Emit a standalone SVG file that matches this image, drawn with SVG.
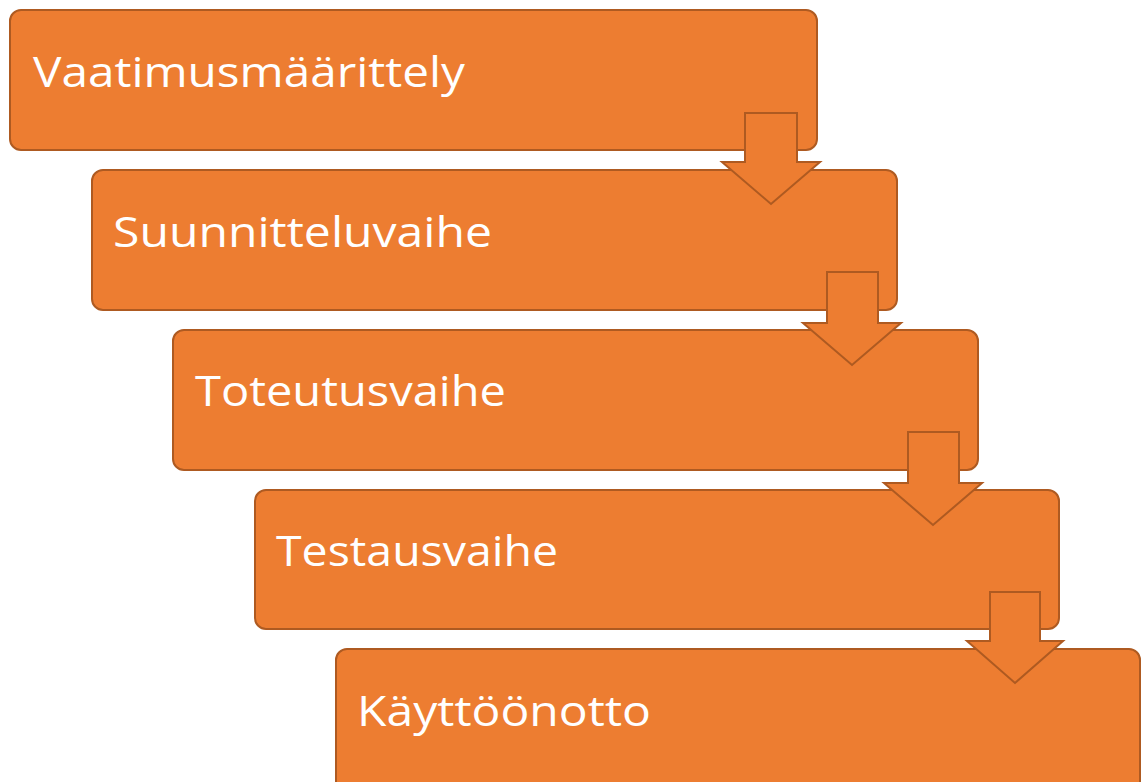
<svg xmlns="http://www.w3.org/2000/svg" width="1142" height="782" viewBox="0 0 1142 782">
<defs>
<style>
.box{fill:#ED7D31;stroke:#AE5A21;stroke-width:2}
.arr{fill:#ED7D31;stroke:#AE5A21;stroke-width:2;stroke-linejoin:miter}
.lbl{fill:#FFFFFF;font-family:"Open Sans","Noto Sans","Liberation Sans",sans-serif;font-size:42px}
</style>
</defs>
<rect width="1142" height="782" fill="#FFFFFF"/>
<g id="node1"><rect class="box" x="10" y="10" width="807" height="140" rx="11"/><text class="lbl" x="33" y="87" textLength="432" lengthAdjust="spacingAndGlyphs">Vaatimusmäärittely</text></g>
<g id="node2"><rect class="box" x="92" y="170" width="805" height="140" rx="11"/><text class="lbl" x="113" y="247" textLength="379" lengthAdjust="spacingAndGlyphs">Suunnitteluvaihe</text></g>
<g id="node3"><rect class="box" x="173" y="330" width="805" height="140" rx="11"/><text class="lbl" x="195" y="406" textLength="311" lengthAdjust="spacingAndGlyphs">Toteutusvaihe</text></g>
<g id="node4"><rect class="box" x="255" y="490" width="804" height="139" rx="11"/><text class="lbl" x="276" y="566" textLength="282" lengthAdjust="spacingAndGlyphs">Testausvaihe</text></g>
<g id="node5"><rect class="box" x="336" y="649" width="804" height="145" rx="11"/><text class="lbl" x="357" y="726" textLength="294" lengthAdjust="spacingAndGlyphs">Käyttöönotto</text></g>
<g id="connectors">
<polygon class="arr" points="745,113 797,113 797,162 820,162 771,204 722,162 745,162"/>
<polygon class="arr" points="827,272 878,272 878,323 901,323 852,365 803,323 827,323"/>
<polygon class="arr" points="908,432 959,432 959,483 982,483 933,525 884,483 908,483"/>
<polygon class="arr" points="990,592 1040,592 1040,641 1063,641 1015,683 967,641 990,641"/>
</g>
</svg>
